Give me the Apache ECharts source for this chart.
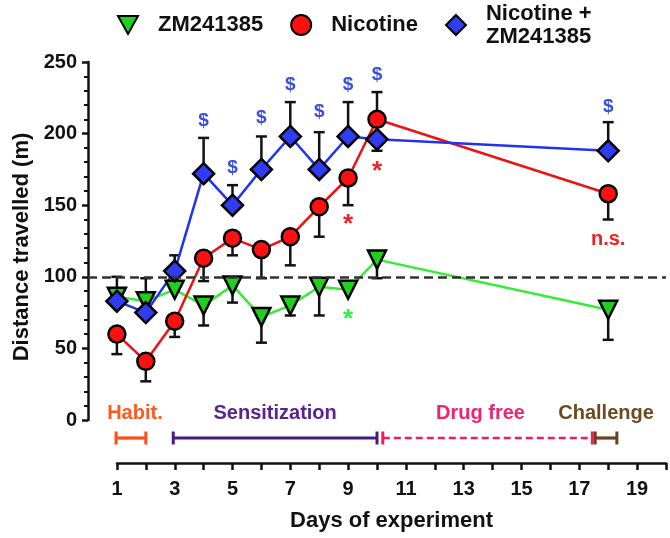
<!DOCTYPE html>
<html><head><meta charset="utf-8">
<script src="https://cdn.jsdelivr.net/npm/echarts@6/dist/echarts.min.js"></script>
<style>html,body{margin:0;padding:0;background:#fff}#c{width:670px;height:538px}</style>
</head><body><div id="c"></div>
<script>
// ---- data ----
const days = [1, 2, 3, 4, 5, 6, 7, 8, 9, 10, 18];
const zmVals = [86, 83, 91, 80, 94, 72, 80, 93, 91, 112, 77];
const zmErrEnd = [null, null, null, 66, 82, 54, 73, 73, null, 99, 56];
const nicVals = [60, 41, 69, 113, 127, 119, 128, 149, 169, 210, 158];
const nicErrEnd = [46, 27, 58, 97, 115, 99, 108, 128, 150, 229, 140];
const bothVals = [83, 75, 104, 172, 150, 175, 198, 175, 198, 196, 188];
const bothErrEnd = [100, 99, 115, 197, 164, 198, 222, 201, 222, 188, 208];
const seriesNames = ['ZM241385', 'Nicotine', 'Nicotine +\nZM241385'];
const baselineValue = 100;
const dollarDays = [4, 5, 6, 7, 8, 9, 10, 18];
const dollarY = [209, 176, 211, 234, 215, 234, 241, 219];
const redStarDays = [9, 10];
const redStarY = [136, 173];
const greenStarDays = [9];
const greenStarY = [70];
const nsDays = [18];
const nsY = [126];
const periodNames = ['Habit.', 'Sensitization', 'Drug free', 'Challenge'];
const periodStart = [0.97, 2.95, 10.2, 17.55];
const periodEnd = [2, 10, 17.45, 18.3];

// ---- styles ----
const FONT = 'Liberation Sans, Arial, sans-serif';
const periodColors = ['#ff4d1a', '#4a1a80', '#ee1a6a', '#6b4220'];
const periodTextColors = ['#ff5a1f', '#5b2391', '#f0246e', '#6b4a20'];
const periodDash = [null, null, [7, 4], null];
const periodLabelShift = [4, 0, -7, 0];

function pts(vals) { return days.map((d, i) => [d, vals[i]]); }

function errSeries(vals, ends) {
  const data = [];
  days.forEach((d, i) => { if (ends[i] != null) data.push([d, vals[i], ends[i]]); });
  return {
    type: 'custom', xAxisIndex: 0, yAxisIndex: 0, silent: true, data,
    renderItem(params, api) {
      const p0 = api.coord([api.value(0), api.value(1)]);
      const p1 = api.coord([api.value(0), api.value(2)]);
      const hw = 5.5;
      return { type: 'group', children: [
        { type: 'line', shape: { x1: p0[0], y1: p0[1], x2: p1[0], y2: p1[1] }, style: { stroke: '#111', lineWidth: 2.5 } },
        { type: 'line', shape: { x1: p1[0] - hw, y1: p1[1], x2: p1[0] + hw, y2: p1[1] }, style: { stroke: '#111', lineWidth: 2.5 } }
      ] };
    }
  };
}

function lineSeries(vals, color) {
  return { type: 'line', name: '_l', data: pts(vals), showSymbol: false, symbol: 'none',
    lineStyle: { color, width: 2.5 }, silent: true, z: 2 };
}

function markerSeries(name, vals, symbol, size, fill, rotate) {
  return { type: 'scatter', name, data: pts(vals), symbol, symbolSize: size, symbolRotate: rotate || 0,
    itemStyle: { color: fill, borderColor: '#000', borderWidth: 2.5, opacity: 1 }, silent: true, z: 2 };
}

function textSeries(xs, ys, text, color, size) {
  return {
    type: 'custom', silent: true, z: 5, data: xs.map((x, i) => [x, ys[i]]),
    renderItem(params, api) {
      const p = api.coord([api.value(0), api.value(1)]);
      return { type: 'text', x: p[0], y: p[1], style: { text, fill: color, font: 'bold ' + size + 'px ' + FONT, align: 'center', verticalAlign: 'middle' } };
    }
  };
}

const periodSeries = {
  type: 'custom', silent: true, clip: false, z: 3,
  data: periodNames.map((n, i) => [periodStart[i], periodEnd[i], i]),
  renderItem(params, api) {
    const i = api.value(2);
    const zeroY = api.coord([0, 0])[1];
    const y = zeroY + 18;
    const x0 = api.coord([api.value(0), 0])[0];
    const x1 = api.coord([api.value(1), 0])[0];
    const c = periodColors[i];
    const st = { stroke: c, lineWidth: i === 2 ? 2.5 : 3.2, lineDash: periodDash[i] };
    const cap = { stroke: c, lineWidth: 3 };
    return { type: 'group', children: [
      { type: 'line', shape: { x1: x0, y1: y, x2: x1, y2: y }, style: st },
      { type: 'line', shape: { x1: x0, y1: y - 6.5, x2: x0, y2: y + 6.5 }, style: cap },
      { type: 'line', shape: { x1: x1, y1: y - 6.5, x2: x1, y2: y + 6.5 }, style: cap },
      { type: 'text', x: (x0 + x1) / 2 + periodLabelShift[i], y: zeroY - 7, style: { text: periodNames[i], fill: periodTextColors[i], font: 'bold 20px ' + FONT, align: 'center', verticalAlign: 'middle' } }
    ] };
  }
};

const chart = echarts.init(document.getElementById('c'), null, { renderer: 'canvas' });
chart.setOption({
  animation: false,
  backgroundColor: '#fff',
  legend: {
    data: [
      { name: seriesNames[0], icon: 'path://M0,0L20,0L10,18Z' },
      { name: seriesNames[1], icon: 'circle' },
      { name: seriesNames[2], icon: 'diamond' }
    ],
    left: 117, top: 2, padding: 0, itemWidth: 20, itemHeight: 20, itemGap: 27,
    textStyle: { fontFamily: FONT, fontWeight: 'bold', fontSize: 22, color: '#111', padding: [0, 0, 0, 15], lineHeight: 23 }
  },
  grid: [
    { left: 88, right: 4, top: 62, bottom: 118 },
    { left: 117, right: 4, top: 440, bottom: 75 }
  ],
  xAxis: [
    { gridIndex: 0, type: 'value', min: 0, max: 20, show: false },
    { gridIndex: 1, type: 'value', min: 1, max: 20, interval: 1,
      axisLine: { show: true, lineStyle: { color: '#111', width: 2.5 } },
      axisTick: { show: true, length: 7, lineStyle: { color: '#111', width: 2.5 } },
      splitLine: { show: false },
      axisLabel: { margin: 16, fontFamily: FONT, fontWeight: 'bold', fontSize: 20, color: '#111',
        formatter: v => (v % 2 === 1 && v < 20 ? String(v) : '') },
      name: 'Days of experiment', nameLocation: 'middle', nameGap: 47,
      nameTextStyle: { fontFamily: FONT, fontWeight: 'bold', fontSize: 22, color: '#111' } }
  ],
  yAxis: [
    { gridIndex: 0, type: 'value', min: 0, max: 250, interval: 50,
      axisLine: { show: true, lineStyle: { color: '#111', width: 2.5 } },
      axisTick: { show: true, length: 6, lineStyle: { color: '#111', width: 2.5 } },
      minorTick: { show: true, splitNumber: 5, length: 4, lineStyle: { color: '#111', width: 2 } },
      splitLine: { show: false },
      axisLabel: { margin: 11, fontFamily: FONT, fontWeight: 'bold', fontSize: 20, color: '#111' },
      name: 'Distance travelled (m)', nameLocation: 'middle', nameGap: 55,
      nameTextStyle: { fontFamily: FONT, fontWeight: 'bold', fontSize: 22, color: '#111', padding: [0, 12, 0, 0] } },
    { gridIndex: 1, type: 'value', min: 0, max: 1, show: false }
  ],
  series: [
    { type: 'line', name: '_base', data: [], silent: true,
      markLine: { silent: true, symbol: ['none', 'none'], label: { show: false },
        lineStyle: { type: [9, 5], color: '#333', width: 2.5 }, data: [{ yAxis: baselineValue }] } },
    lineSeries(zmVals, '#33ee33'),
    errSeries(zmVals, zmErrEnd),
    markerSeries(seriesNames[0], zmVals, 'triangle', 18, '#1fd01f', 180),
    lineSeries(nicVals, '#ee1111'),
    errSeries(nicVals, nicErrEnd),
    markerSeries(seriesNames[1], nicVals, 'circle', 17, '#ff1010'),
    lineSeries(bothVals, '#2233ee'),
    errSeries(bothVals, bothErrEnd),
    markerSeries(seriesNames[2], bothVals, 'diamond', 21, '#2f3cf0'),
    periodSeries,
    textSeries(dollarDays, dollarY, '$', '#3a4ee0', 19),
    textSeries(redStarDays, redStarY, '*', '#ee2222', 26),
    textSeries(greenStarDays, greenStarY, '*', '#33ee44', 26),
    textSeries(nsDays, nsY, 'n.s.', '#ee2222', 20)
  ]
});
</script></body></html>
